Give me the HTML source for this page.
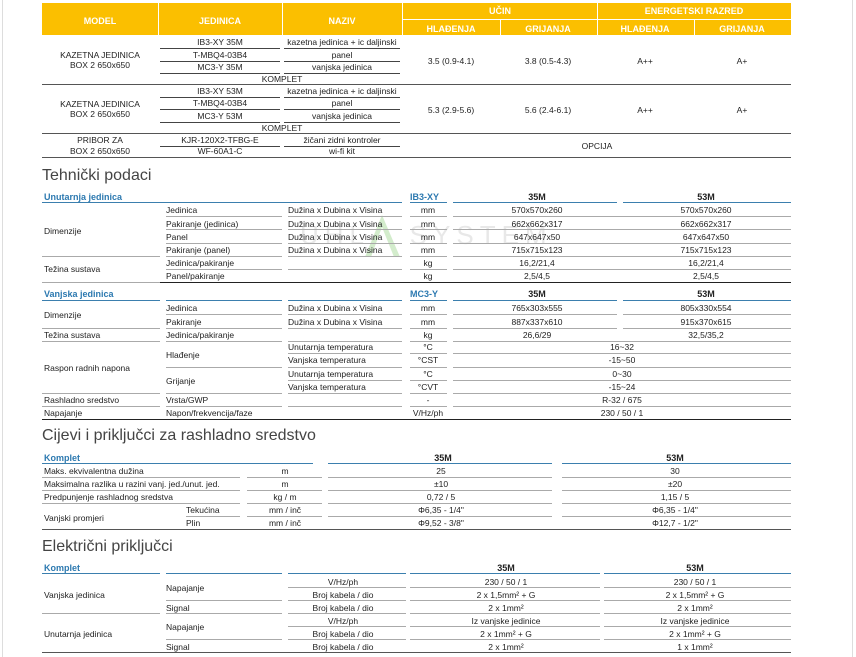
<!DOCTYPE html>
<html><head><meta charset="utf-8">
<style>
body{margin:0;width:856px;height:657px;background:#fff;position:relative;overflow:hidden;font-family:"Liberation Sans",sans-serif;color:#222}
.t{position:absolute;font-size:8.5px;line-height:10px;white-space:nowrap}
.c{transform:translateX(-50%)}
.l{position:absolute;height:1px;background:#aaa}
.k{background:#222}
.b{background:#3b7fae}
.y{position:absolute;background:#fbbf00}
.h{position:absolute;color:#fff;font-weight:bold;font-size:9px;line-height:10px;white-space:nowrap;transform:translateX(-50%)}
.s{position:absolute;font-size:16px;color:#444;white-space:nowrap;line-height:18px}
.bl{position:absolute;color:#2c79b0;font-weight:bold;font-size:9px;line-height:10px;white-space:nowrap}
.bh{position:absolute;font-weight:bold;font-size:9px;line-height:10px;white-space:nowrap;transform:translateX(-50%);color:#222}
</style></head><body>
<div style="position:absolute;left:2px;top:0;width:1px;height:657px;background:#ddd"></div>
<div style="position:absolute;left:852px;top:0;width:1px;height:657px;background:#ddd"></div>

<!-- header -->
<div class="y" style="left:42px;top:3px;width:749px;height:32px"></div>
<div style="position:absolute;left:158px;top:3px;width:1px;height:32px;background:#fff"></div>
<div style="position:absolute;left:282px;top:3px;width:1px;height:32px;background:#fff"></div>
<div style="position:absolute;left:402px;top:3px;width:1px;height:32px;background:#fff"></div>
<div style="position:absolute;left:597px;top:3px;width:1px;height:32px;background:#fff"></div>
<div style="position:absolute;left:500px;top:19px;width:1px;height:16px;background:#fff"></div>
<div style="position:absolute;left:694px;top:19px;width:1px;height:16px;background:#fff"></div>
<div style="position:absolute;left:402px;top:19px;width:389px;height:1px;background:#fff"></div>
<div class="h" style="left:100px;top:16px">MODEL</div>
<div class="h" style="left:220px;top:16px">JEDINICA</div>
<div class="h" style="left:342px;top:16px">NAZIV</div>
<div class="h" style="left:500px;top:6px">UČIN</div>
<div class="h" style="left:694px;top:6px">ENERGETSKI RAZRED</div>
<div class="h" style="left:451px;top:24px">HLAĐENJA</div>
<div class="h" style="left:548px;top:24px">GRIJANJA</div>
<div class="h" style="left:645px;top:24px">HLAĐENJA</div>
<div class="h" style="left:742px;top:24px">GRIJANJA</div>

<!-- row1 -->
<div class="t c" style="left:100px;top:50px">KAZETNA JEDINICA</div>
<div class="t c" style="left:100px;top:60px">BOX 2 650x650</div>
<div class="t c" style="left:220px;top:37px">IB3-XY 35M</div>
<div class="t c" style="left:220px;top:50px">T-MBQ4-03B4</div>
<div class="t c" style="left:220px;top:62px">MC3-Y 35M</div>
<div class="t c" style="left:342px;top:37px">kazetna jedinica + ic daljinski</div>
<div class="t c" style="left:342px;top:50px">panel</div>
<div class="t c" style="left:342px;top:62px">vanjska jedinica</div>
<div class="t c" style="left:282px;top:74px">KOMPLET</div>
<div class="t c" style="left:451px;top:56px">3.5 (0.9-4.1)</div>
<div class="t c" style="left:548px;top:56px">3.8 (0.5-4.3)</div>
<div class="t c" style="left:645px;top:56px">A++</div>
<div class="t c" style="left:742px;top:56px">A+</div>
<div class="l" style="left:160px;top:48px;width:120px;background:#444"></div>
<div class="l" style="left:284px;top:48px;width:116px;background:#444"></div>
<div class="l" style="left:160px;top:61px;width:120px;background:#444"></div>
<div class="l" style="left:284px;top:61px;width:116px;background:#444"></div>
<div class="l" style="left:160px;top:73px;width:120px;background:#444"></div>
<div class="l" style="left:284px;top:73px;width:116px;background:#444"></div>
<div class="l" style="left:42px;top:84px;width:749px;background:#555"></div>
<!-- row2 -->
<div class="t c" style="left:100px;top:99px">KAZETNA JEDINICA</div>
<div class="t c" style="left:100px;top:109px">BOX 2 650x650</div>
<div class="t c" style="left:220px;top:86px">IB3-XY 53M</div>
<div class="t c" style="left:220px;top:98px">T-MBQ4-03B4</div>
<div class="t c" style="left:220px;top:111px">MC3-Y 53M</div>
<div class="t c" style="left:342px;top:86px">kazetna jedinica + ic daljinski</div>
<div class="t c" style="left:342px;top:98px">panel</div>
<div class="t c" style="left:342px;top:111px">vanjska jedinica</div>
<div class="t c" style="left:282px;top:123px">KOMPLET</div>
<div class="t c" style="left:451px;top:105px">5.3 (2.9-5.6)</div>
<div class="t c" style="left:548px;top:105px">5.6 (2.4-6.1)</div>
<div class="t c" style="left:645px;top:105px">A++</div>
<div class="t c" style="left:742px;top:105px">A+</div>
<div class="l" style="left:160px;top:97px;width:120px;background:#444"></div>
<div class="l" style="left:284px;top:97px;width:116px;background:#444"></div>
<div class="l" style="left:160px;top:109px;width:120px;background:#444"></div>
<div class="l" style="left:284px;top:109px;width:116px;background:#444"></div>
<div class="l" style="left:160px;top:122px;width:120px;background:#444"></div>
<div class="l" style="left:284px;top:122px;width:116px;background:#444"></div>
<div class="l" style="left:42px;top:133px;width:749px;background:#555"></div>
<!-- row3 -->
<div class="t c" style="left:100px;top:135px">PRIBOR ZA</div>
<div class="t c" style="left:100px;top:146px">BOX 2 650x650</div>
<div class="t c" style="left:220px;top:135px">KJR-120X2-TFBG-E</div>
<div class="t c" style="left:220px;top:146px">WF-60A1-C</div>
<div class="t c" style="left:342px;top:135px">žičani zidni kontroler</div>
<div class="t c" style="left:342px;top:146px">wi-fi kit</div>
<div class="t c" style="left:597px;top:141px">OPCIJA</div>
<div class="l" style="left:160px;top:146px;width:120px;background:#444"></div>
<div class="l" style="left:284px;top:146px;width:116px;background:#444"></div>
<div class="l" style="left:42px;top:157px;width:749px;background:#555"></div>

<!-- watermark -->
<div style="position:absolute;left:300px;top:222px;font-size:26px;letter-spacing:6px;color:rgba(150,150,150,0.22);white-space:nowrap;line-height:26px">UHL&nbsp;&nbsp;&nbsp;SYSTEM</div>
<svg style="position:absolute;left:360px;top:213px" width="60" height="45"><polygon points="5,44 22,2 40,44 34,44 22,14 11,44" fill="rgba(130,200,110,0.35)"/></svg>

<!-- Tehnicki podaci -->
<div class="s" style="left:42px;top:167px">Tehnički podaci</div>
<div class="bl" style="left:44px;top:192px">Unutarnja jedinica</div>
<div class="bl" style="left:410px;top:192px">IB3-XY</div>
<div class="bh" style="left:537px;top:192px">35M</div>
<div class="bh" style="left:706px;top:192px">53M</div>
<div class="l b" style="left:42px;top:202px;width:360px"></div>
<div class="l b" style="left:410px;top:202px;width:37px"></div>
<div class="l b" style="left:453px;top:202px;width:164px"></div>
<div class="l b" style="left:623px;top:202px;width:168px"></div>

<div class="t" style="left:44px;top:226px">Dimenzije</div>
<div class="t" style="left:44px;top:264px">Težina sustava</div>
<div class="t" style="left:166px;top:205px">Jedinica</div>
<div class="t" style="left:166px;top:219px">Pakiranje (jedinica)</div>
<div class="t" style="left:166px;top:232px">Panel</div>
<div class="t" style="left:166px;top:245px">Pakiranje (panel)</div>
<div class="t" style="left:166px;top:258px">Jedinica/pakiranje</div>
<div class="t" style="left:166px;top:271px">Panel/pakiranje</div>
<div class="t" style="left:288px;top:205px">Dužina x Dubina x Visina</div>
<div class="t" style="left:288px;top:219px">Dužina x Dubina x Visina</div>
<div class="t" style="left:288px;top:232px">Dužina x Dubina x Visina</div>
<div class="t" style="left:288px;top:245px">Dužina x Dubina x Visina</div>
<div class="t c" style="left:428px;top:205px">mm</div>
<div class="t c" style="left:428px;top:219px">mm</div>
<div class="t c" style="left:428px;top:232px">mm</div>
<div class="t c" style="left:428px;top:245px">mm</div>
<div class="t c" style="left:428px;top:258px">kg</div>
<div class="t c" style="left:428px;top:271px">kg</div>
<div class="t c" style="left:537px;top:205px">570x570x260</div>
<div class="t c" style="left:537px;top:219px">662x662x317</div>
<div class="t c" style="left:537px;top:232px">647x647x50</div>
<div class="t c" style="left:537px;top:245px">715x715x123</div>
<div class="t c" style="left:537px;top:258px">16,2/21,4</div>
<div class="t c" style="left:537px;top:271px">2,5/4,5</div>
<div class="t c" style="left:706px;top:205px">570x570x260</div>
<div class="t c" style="left:706px;top:219px">662x662x317</div>
<div class="t c" style="left:706px;top:232px">647x647x50</div>
<div class="t c" style="left:706px;top:245px">715x715x123</div>
<div class="t c" style="left:706px;top:258px">16,2/21,4</div>
<div class="t c" style="left:706px;top:271px">2,5/4,5</div>
<!-- lines unutarnja -->
<div class="l" style="left:166px;top:216px;width:116px"></div><div class="l" style="left:288px;top:216px;width:114px"></div><div class="l" style="left:410px;top:216px;width:37px"></div><div class="l" style="left:453px;top:216px;width:338px"></div>
<div class="l" style="left:166px;top:229px;width:116px"></div><div class="l" style="left:288px;top:229px;width:114px"></div><div class="l" style="left:410px;top:229px;width:37px"></div><div class="l" style="left:453px;top:229px;width:338px"></div>
<div class="l" style="left:166px;top:243px;width:116px"></div><div class="l" style="left:288px;top:243px;width:114px"></div><div class="l" style="left:410px;top:243px;width:37px"></div><div class="l" style="left:453px;top:243px;width:338px"></div>
<div class="l" style="left:42px;top:256px;width:118px"></div><div class="l" style="left:166px;top:256px;width:116px"></div><div class="l" style="left:288px;top:256px;width:114px"></div><div class="l" style="left:410px;top:256px;width:37px"></div><div class="l" style="left:453px;top:256px;width:338px"></div>
<div class="l" style="left:166px;top:269px;width:116px"></div><div class="l" style="left:288px;top:269px;width:114px"></div><div class="l" style="left:410px;top:269px;width:37px"></div><div class="l" style="left:453px;top:269px;width:338px"></div>
<div class="l" style="left:42px;top:282px;width:118px"></div>
<div class="l k" style="left:160px;top:282px;width:631px"></div>

<!-- Vanjska -->
<div class="bl" style="left:44px;top:289px">Vanjska jedinica</div>
<div class="bl" style="left:410px;top:289px">MC3-Y</div>
<div class="bh" style="left:537px;top:289px">35M</div>
<div class="bh" style="left:706px;top:289px">53M</div>
<div class="l b" style="left:42px;top:300px;width:118px"></div>
<div class="l b" style="left:166px;top:300px;width:116px"></div>
<div class="l b" style="left:288px;top:300px;width:114px"></div>
<div class="l b" style="left:410px;top:300px;width:37px"></div>
<div class="l b" style="left:453px;top:300px;width:164px"></div>
<div class="l b" style="left:623px;top:300px;width:168px"></div>

<div class="t" style="left:44px;top:310px">Dimenzije</div>
<div class="t" style="left:44px;top:330px">Težina sustava</div>
<div class="t" style="left:44px;top:363px">Raspon radnih napona</div>
<div class="t" style="left:44px;top:395px">Rashladno sredstvo</div>
<div class="t" style="left:44px;top:408px">Napajanje</div>
<div class="t" style="left:166px;top:303px">Jedinica</div>
<div class="t" style="left:166px;top:317px">Pakiranje</div>
<div class="t" style="left:166px;top:330px">Jedinica/pakiranje</div>
<div class="t" style="left:166px;top:350px">Hlađenje</div>
<div class="t" style="left:166px;top:376px">Grijanje</div>
<div class="t" style="left:166px;top:395px">Vrsta/GWP</div>
<div class="t" style="left:166px;top:408px">Napon/frekvencija/faze</div>
<div class="t" style="left:288px;top:303px">Dužina x Dubina x Visina</div>
<div class="t" style="left:288px;top:317px">Dužina x Dubina x Visina</div>
<div class="t" style="left:288px;top:342px">Unutarnja temperatura</div>
<div class="t" style="left:288px;top:355px">Vanjska temperatura</div>
<div class="t" style="left:288px;top:369px">Unutarnja temperatura</div>
<div class="t" style="left:288px;top:382px">Vanjska temperatura</div>
<div class="t c" style="left:428px;top:303px">mm</div>
<div class="t c" style="left:428px;top:317px">mm</div>
<div class="t c" style="left:428px;top:330px">kg</div>
<div class="t c" style="left:428px;top:342px">°C</div>
<div class="t c" style="left:428px;top:355px">°CST</div>
<div class="t c" style="left:428px;top:369px">°C</div>
<div class="t c" style="left:428px;top:382px">°CVT</div>
<div class="t c" style="left:428px;top:395px">-</div>
<div class="t c" style="left:428px;top:408px">V/Hz/ph</div>
<div class="t c" style="left:537px;top:303px">765x303x555</div>
<div class="t c" style="left:537px;top:317px">887x337x610</div>
<div class="t c" style="left:537px;top:330px">26,6/29</div>
<div class="t c" style="left:706px;top:303px">805x330x554</div>
<div class="t c" style="left:706px;top:317px">915x370x615</div>
<div class="t c" style="left:706px;top:330px">32,5/35,2</div>
<div class="t c" style="left:622px;top:342px">16~32</div>
<div class="t c" style="left:622px;top:355px">-15~50</div>
<div class="t c" style="left:622px;top:369px">0~30</div>
<div class="t c" style="left:622px;top:382px">-15~24</div>
<div class="t c" style="left:622px;top:395px">R-32 / 675</div>
<div class="t c" style="left:622px;top:408px">230 / 50 / 1</div>
<!-- lines vanjska -->
<div class="l" style="left:166px;top:314px;width:116px"></div><div class="l" style="left:288px;top:314px;width:114px"></div><div class="l" style="left:410px;top:314px;width:37px"></div><div class="l" style="left:453px;top:314px;width:164px"></div><div class="l" style="left:623px;top:314px;width:168px"></div>
<div class="l" style="left:42px;top:328px;width:118px"></div><div class="l" style="left:166px;top:328px;width:116px"></div><div class="l" style="left:288px;top:328px;width:114px"></div><div class="l" style="left:410px;top:328px;width:37px"></div><div class="l" style="left:453px;top:328px;width:164px"></div><div class="l" style="left:623px;top:328px;width:168px"></div>
<div class="l" style="left:42px;top:341px;width:118px"></div><div class="l" style="left:166px;top:341px;width:116px"></div><div class="l" style="left:288px;top:341px;width:114px"></div><div class="l" style="left:410px;top:341px;width:37px"></div><div class="l" style="left:453px;top:341px;width:338px"></div>
<div class="l" style="left:288px;top:353px;width:114px"></div><div class="l" style="left:410px;top:353px;width:37px"></div><div class="l" style="left:453px;top:353px;width:338px"></div>
<div class="l" style="left:166px;top:367px;width:116px"></div><div class="l" style="left:288px;top:367px;width:114px"></div><div class="l" style="left:410px;top:367px;width:37px"></div><div class="l" style="left:453px;top:367px;width:338px"></div>
<div class="l" style="left:288px;top:380px;width:114px"></div><div class="l" style="left:410px;top:380px;width:37px"></div><div class="l" style="left:453px;top:380px;width:338px"></div>
<div class="l" style="left:42px;top:393px;width:118px"></div><div class="l" style="left:166px;top:393px;width:116px"></div><div class="l" style="left:288px;top:393px;width:114px"></div><div class="l" style="left:410px;top:393px;width:37px"></div><div class="l" style="left:453px;top:393px;width:338px"></div>
<div class="l" style="left:42px;top:406px;width:118px"></div><div class="l" style="left:166px;top:406px;width:116px"></div><div class="l" style="left:288px;top:406px;width:114px"></div><div class="l" style="left:410px;top:406px;width:37px"></div><div class="l" style="left:453px;top:406px;width:338px"></div>
<div class="l k" style="left:42px;top:419px;width:749px"></div>

<!-- Cijevi -->
<div class="s" style="left:42px;top:427px">Cijevi i priključci za rashladno sredstvo</div>
<div class="bl" style="left:44px;top:453px">Komplet</div>
<div class="bh" style="left:443px;top:453px">35M</div>
<div class="bh" style="left:675px;top:453px">53M</div>
<div class="l b" style="left:42px;top:463px;width:271px"></div>
<div class="l b" style="left:328px;top:463px;width:224px"></div>
<div class="l b" style="left:562px;top:463px;width:229px"></div>
<div class="t" style="left:44px;top:466px">Maks. ekvivalentna dužina</div>
<div class="t" style="left:44px;top:479px">Maksimalna razlika u razini vanj. jed./unut. jed.</div>
<div class="t" style="left:44px;top:492px">Predpunjenje rashladnog sredstva</div>
<div class="t" style="left:44px;top:513px">Vanjski promjeri</div>
<div class="t" style="left:186px;top:505px">Tekućina</div>
<div class="t" style="left:186px;top:518px">Plin</div>
<div class="t c" style="left:285px;top:466px">m</div>
<div class="t c" style="left:285px;top:479px">m</div>
<div class="t c" style="left:285px;top:492px">kg / m</div>
<div class="t c" style="left:285px;top:505px">mm / inč</div>
<div class="t c" style="left:285px;top:518px">mm / inč</div>
<div class="t c" style="left:441px;top:466px">25</div>
<div class="t c" style="left:441px;top:479px">±10</div>
<div class="t c" style="left:441px;top:492px">0,72 / 5</div>
<div class="t c" style="left:441px;top:505px">Φ6,35 - 1/4"</div>
<div class="t c" style="left:441px;top:518px">Φ9,52 - 3/8"</div>
<div class="t c" style="left:675px;top:466px">30</div>
<div class="t c" style="left:675px;top:479px">±20</div>
<div class="t c" style="left:675px;top:492px">1,15 / 5</div>
<div class="t c" style="left:675px;top:505px">Φ6,35 - 1/4"</div>
<div class="t c" style="left:675px;top:518px">Φ12,7 - 1/2"</div>
<div class="l" style="left:42px;top:477px;width:198px"></div><div class="l" style="left:247px;top:477px;width:75px"></div><div class="l" style="left:328px;top:477px;width:224px"></div><div class="l" style="left:562px;top:477px;width:229px"></div>
<div class="l" style="left:42px;top:490px;width:198px"></div><div class="l" style="left:247px;top:490px;width:75px"></div><div class="l" style="left:328px;top:490px;width:224px"></div><div class="l" style="left:562px;top:490px;width:229px"></div>
<div class="l" style="left:42px;top:503px;width:198px"></div><div class="l" style="left:247px;top:503px;width:75px"></div><div class="l" style="left:328px;top:503px;width:224px"></div><div class="l" style="left:562px;top:503px;width:229px"></div>
<div class="l" style="left:186px;top:516px;width:54px"></div><div class="l" style="left:247px;top:516px;width:75px"></div><div class="l" style="left:328px;top:516px;width:224px"></div><div class="l" style="left:562px;top:516px;width:229px"></div>
<div class="l k" style="left:42px;top:529px;width:749px;background:#555"></div>

<!-- Elektricni -->
<div class="s" style="left:42px;top:538px">Električni priključci</div>
<div class="bl" style="left:44px;top:563px">Komplet</div>
<div class="bh" style="left:506px;top:563px">35M</div>
<div class="bh" style="left:695px;top:563px">53M</div>
<div class="l b" style="left:42px;top:573px;width:118px"></div>
<div class="l b" style="left:166px;top:573px;width:116px"></div>
<div class="l b" style="left:288px;top:573px;width:118px"></div>
<div class="l b" style="left:410px;top:573px;width:190px"></div>
<div class="l b" style="left:604px;top:573px;width:187px"></div>
<div class="t" style="left:44px;top:590px">Vanjska jedinica</div>
<div class="t" style="left:44px;top:629px">Unutarnja jedinica</div>
<div class="t" style="left:166px;top:583px">Napajanje</div>
<div class="t" style="left:166px;top:603px">Signal</div>
<div class="t" style="left:166px;top:622px">Napajanje</div>
<div class="t" style="left:166px;top:642px">Signal</div>
<div class="t c" style="left:343px;top:577px">V/Hz/ph</div>
<div class="t c" style="left:343px;top:590px">Broj kabela / dio</div>
<div class="t c" style="left:343px;top:603px">Broj kabela / dio</div>
<div class="t c" style="left:343px;top:616px">V/Hz/ph</div>
<div class="t c" style="left:343px;top:629px">Broj kabela / dio</div>
<div class="t c" style="left:343px;top:642px">Broj kabela / dio</div>
<div class="t c" style="left:506px;top:577px">230 / 50 / 1</div>
<div class="t c" style="left:506px;top:590px">2 x 1,5mm² + G</div>
<div class="t c" style="left:506px;top:603px">2 x 1mm²</div>
<div class="t c" style="left:506px;top:616px">Iz vanjske jedinice</div>
<div class="t c" style="left:506px;top:629px">2 x 1mm² + G</div>
<div class="t c" style="left:506px;top:642px">2 x 1mm²</div>
<div class="t c" style="left:695px;top:577px">230 / 50 / 1</div>
<div class="t c" style="left:695px;top:590px">2 x 1,5mm² + G</div>
<div class="t c" style="left:695px;top:603px">2 x 1mm²</div>
<div class="t c" style="left:695px;top:616px">Iz vanjske jedinice</div>
<div class="t c" style="left:695px;top:629px">2 x 1mm² + G</div>
<div class="t c" style="left:695px;top:642px">1 x 1mm²</div>
<div class="l" style="left:288px;top:587px;width:118px"></div><div class="l" style="left:410px;top:587px;width:190px"></div><div class="l" style="left:604px;top:587px;width:187px"></div>
<div class="l" style="left:166px;top:600px;width:116px"></div><div class="l" style="left:288px;top:600px;width:118px"></div><div class="l" style="left:410px;top:600px;width:190px"></div><div class="l" style="left:604px;top:600px;width:187px"></div>
<div class="l" style="left:42px;top:613px;width:118px"></div><div class="l" style="left:166px;top:613px;width:116px"></div><div class="l" style="left:288px;top:613px;width:118px"></div><div class="l" style="left:410px;top:613px;width:190px"></div><div class="l" style="left:604px;top:613px;width:187px"></div>
<div class="l" style="left:288px;top:626px;width:118px"></div><div class="l" style="left:410px;top:626px;width:190px"></div><div class="l" style="left:604px;top:626px;width:187px"></div>
<div class="l" style="left:166px;top:639px;width:116px"></div><div class="l" style="left:288px;top:639px;width:118px"></div><div class="l" style="left:410px;top:639px;width:190px"></div><div class="l" style="left:604px;top:639px;width:187px"></div>
<div class="l" style="left:42px;top:652px;width:749px;background:#555"></div>
</body></html>
